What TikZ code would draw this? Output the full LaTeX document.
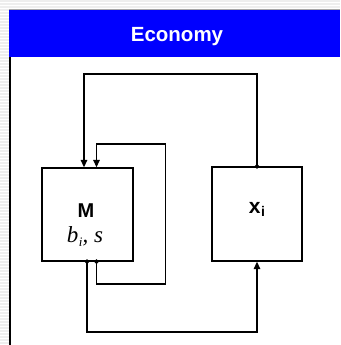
\documentclass[tikz,border=0pt]{standalone}
\usepackage{fontspec}
\setmainfont{Liberation Serif}
\setsansfont{Liberation Sans}
\usetikzlibrary{arrows.meta}
\definecolor{hdrblue}{RGB}{0,0,255}
\definecolor{stripe}{RGB}{238,238,238}
\begin{document}
\begin{tikzpicture}[x=1pt,y=-1pt,
  box/.style={draw, line width=1.3pt, minimum width=91pt, minimum height=93pt, inner sep=0pt},
  lbl/.style={font=\sffamily\bfseries\fontsize{20}{22}\selectfont, inner sep=0pt, anchor=base},
  link/.style={line width=1.3pt, -{Triangle[length=7.5pt,width=6.5pt]}},
  dotlink/.style={line width=1.3pt, {Circle[length=4.5pt]}-{Triangle[length=7.5pt,width=6.5pt]}, shorten <=-2.2pt}]
\useasboundingbox (0,0) rectangle (340,345);
% background texture
\fill[white] (0,0) rectangle (340,345);
\foreach \yy in {0,3,...,345} \fill[stripe] (0,\yy) rectangle (340,\yy+1.6);
\fill[white] (10,57) rectangle (340,345);
% header
\fill[hdrblue] (9,9.5) rectangle (340,57);
\draw[gray!70, line width=0.7pt] (9,9.2) -- (340,9.2);
\draw[black, line width=2pt] (10,57) -- (10,345);
\node[font=\sffamily\bfseries\fontsize{20.5}{23}\selectfont, text=white, inner sep=0pt, anchor=base] (title) at (177,41.7) {Economy};
% boxes
\node[box] (M) at (87.5,214.5) {};
\node[box, minimum width=90pt, minimum height=94pt] (xi) at (257,214) {};
\node[lbl] (Mt) at (86,217) {M};
\node[font=\itshape\fontsize{23}{25}\selectfont, inner sep=0pt, anchor=base] (Mv) at (85,242) {b\kern0.5pt\raisebox{-4pt}{\fontsize{13}{14}\selectfont i}, s};
\node[lbl, font=\sffamily\bfseries\fontsize{21}{23}\selectfont] (xt) at (257,213) {x\kern0.5pt\raisebox{-3pt}{\fontsize{14}{15}\selectfont i}};
% connectors
\draw[dotlink] (xi.north) -- (xi.north |- 0,74) -| ([xshift=-3.5pt]M.north);
\draw[dotlink] ([xshift=9pt]M.south) |- (165.5,284) |- (96.5,144) -- ([xshift=9pt]M.north);
\draw[dotlink] ([xshift=-0.5pt]M.south) |- (xi.south |- 0,332) -- (xi.south);
\end{tikzpicture}
\end{document}
